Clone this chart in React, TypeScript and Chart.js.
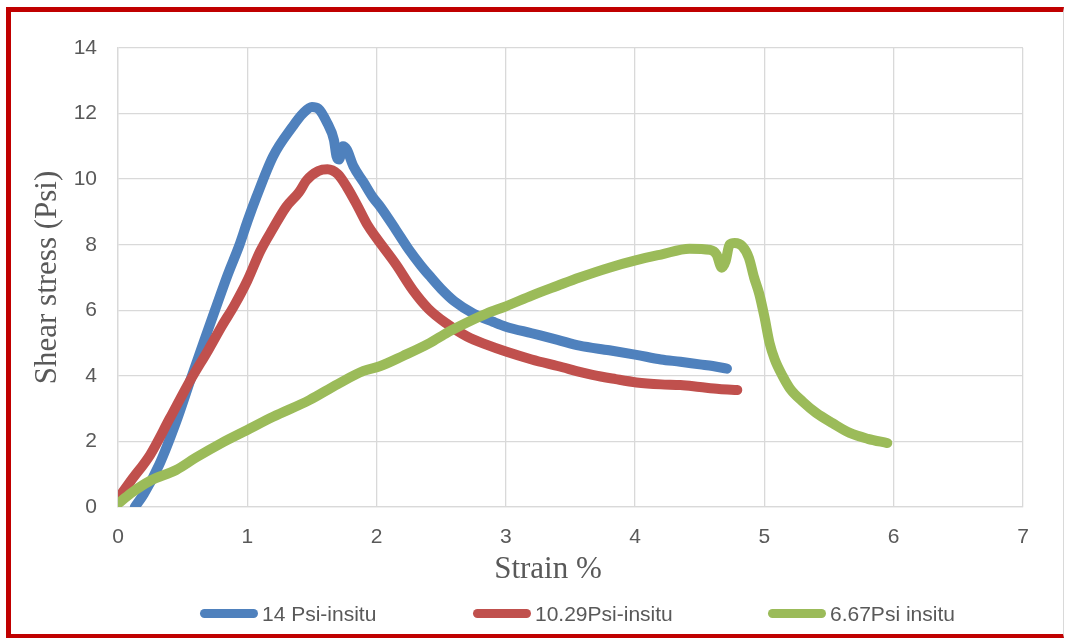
import React, { useEffect, useRef } from "react";
import { Chart, registerables } from "chart.js";

Chart.register(...registerables);

const xTicksMax = 7;
const yTicksMax = 14;

const blueLabel = "14 Psi-insitu";
const blueX = [0.13, 0.2, 0.32, 0.45, 0.56, 0.66, 0.75, 0.85, 0.94, 1.0, 1.07, 1.2, 1.35, 1.43, 1.5, 1.55, 1.62, 1.67, 1.69, 1.71, 1.74, 1.77, 1.82, 1.9, 1.97, 2.03, 2.15, 2.25, 2.34, 2.41, 2.5, 2.6, 2.75, 2.9, 3.0, 3.2, 3.4, 3.57, 3.8, 4.01, 4.2, 4.35, 4.5, 4.6, 4.71];
const blueY = [0, 0.4, 1.3, 2.6, 3.87, 5.0, 6.0, 7.1, 8.0, 8.7, 9.45, 10.7, 11.6, 12.0, 12.2, 12.15, 11.7, 11.2, 10.7, 10.6, 11.0, 10.9, 10.4, 9.9, 9.45, 9.15, 8.45, 7.85, 7.38, 7.05, 6.65, 6.28, 5.9, 5.65, 5.5, 5.3, 5.1, 4.92, 4.78, 4.64, 4.5, 4.43, 4.35, 4.3, 4.22];

const redLabel = "10.29Psi-insitu";
const redX = [0.0, 0.1, 0.25, 0.4, 0.56, 0.7, 0.8, 0.9, 1.0, 1.1, 1.2, 1.3, 1.4, 1.46, 1.55, 1.62, 1.7, 1.77, 1.85, 1.93, 2.0, 2.15, 2.28, 2.4, 2.54, 2.7, 2.85, 3.0, 3.2, 3.4, 3.67, 3.85, 4.01, 4.2, 4.35, 4.5, 4.65, 4.79];
const redY = [0.25, 0.8, 1.6, 2.7, 3.87, 4.8, 5.5, 6.15, 6.9, 7.8, 8.5, 9.15, 9.6, 9.97, 10.25, 10.3, 10.15, 9.76, 9.2, 8.6, 8.2, 7.4, 6.62, 6.05, 5.6, 5.2, 4.95, 4.74, 4.5, 4.3, 4.03, 3.9, 3.8, 3.74, 3.72, 3.66, 3.6, 3.57];

const greenLabel = "6.67Psi insitu";
const greenX = [0.0, 0.1, 0.25, 0.45, 0.6, 0.8, 1.0, 1.2, 1.48, 1.7, 1.9, 2.03, 2.2, 2.41, 2.55, 2.7, 2.85, 3.0, 3.2, 3.4, 3.57, 3.8, 4.01, 4.2, 4.42, 4.58, 4.63, 4.67, 4.7, 4.73, 4.77, 4.83, 4.88, 4.92, 4.96, 5.0, 5.04, 5.08, 5.14, 5.2, 5.3, 5.4, 5.53, 5.66, 5.8, 5.95];
const greenY = [0.1, 0.42, 0.8, 1.13, 1.5, 1.95, 2.35, 2.75, 3.26, 3.75, 4.15, 4.3, 4.6, 5.0, 5.33, 5.63, 5.9, 6.12, 6.45, 6.75, 7.0, 7.3, 7.53, 7.7, 7.88, 7.84, 7.7, 7.3, 7.5, 8.0, 8.05, 7.95, 7.6, 7.0, 6.5, 5.8, 5.0, 4.5, 4.0, 3.6, 3.2, 2.87, 2.55, 2.26, 2.08, 1.95];

const BLUE = "#4F81BD";
const RED = "#C0504D";
const GREEN = "#9BBB59";
const TEXT = "#595959";
const GRID = "#d9d9d9";
const SANS = "'Liberation Sans', Arial, sans-serif";
const SERIF = "'Liberation Serif', 'Times New Roman', serif";

const toPts = (xs: number[], ys: number[]) => xs.map((x, i) => ({ x, y: ys[i] }));

export default function App() {
  const ref = useRef<HTMLCanvasElement>(null);

  useEffect(() => {
    if (!ref.current) return;
    const mk = (label: string, xs: number[], ys: number[], color: string, order: number) => ({
      label,
      data: toPts(xs, ys),
      borderColor: color,
      backgroundColor: color,
      borderWidth: 10,
      borderCapStyle: "round" as const,
      borderJoinStyle: "round" as const,
      pointRadius: 0,
      showLine: true,
      cubicInterpolationMode: "monotone" as const,
      order,
    });
    const chart = new Chart(ref.current, {
      type: "scatter",
      data: {
        datasets: [
          mk(blueLabel, blueX, blueY, BLUE, 3),
          mk(redLabel, redX, redY, RED, 2),
          mk(greenLabel, greenX, greenY, GREEN, 1),
        ],
      },
      options: {
        animation: false,
        responsive: false,
        layout: { padding: { left: 12, top: 48, right: 42, bottom: 0 } },
        plugins: { legend: { display: false }, tooltip: { enabled: false } },
        scales: {
          x: {
            type: "linear",
            min: 0,
            max: xTicksMax,
            ticks: { stepSize: 1, color: TEXT, font: { family: SANS, size: 21 }, padding: 18 },
            grid: { color: GRID, drawTicks: false, lineWidth: 1.3 },
            border: { color: GRID, width: 1.3 },
            afterFit: (s: any) => {
              s.height = 132;
            },
          },
          y: {
            type: "linear",
            min: 0,
            max: yTicksMax,
            ticks: { stepSize: 2, color: TEXT, font: { family: SANS, size: 21 }, padding: 21 },
            grid: { color: GRID, drawTicks: false, lineWidth: 1.3 },
            border: { color: GRID, width: 1.3 },
            title: {
              display: true,
              text: "Shear stress (Psi)",
              color: TEXT,
              font: { family: SERIF, size: 31 },
              padding: { top: 17, bottom: 0 },
            },
            afterFit: (s: any) => {
              s.width = 106;
            },
          },
        },
      },
    });
    return () => chart.destroy();
  }, []);

  const legendItems = [
    { label: blueLabel, color: BLUE, left: 200 },
    { label: redLabel, color: RED, left: 473 },
    { label: greenLabel, color: GREEN, left: 768 },
  ];

  return (
    <div style={{ position: "fixed", left: 0, top: 0, width: 1065, height: 639, background: "#fff", overflow: "hidden" }}>
      <canvas ref={ref} width={1065} height={639} style={{ position: "absolute", left: 0, top: 0, width: 1065, height: 639 }} />
      <div
        style={{
          position: "absolute",
          left: 548,
          top: 567,
          transform: "translate(-50%, -50%)",
          fontFamily: SERIF,
          fontSize: 31,
          lineHeight: 1,
          color: TEXT,
          whiteSpace: "nowrap",
        }}
      >
        Strain %
      </div>
      {legendItems.map((it) => (
        <div
          key={it.label}
          style={{ position: "absolute", left: it.left, top: 600, height: 26, display: "flex", alignItems: "center", whiteSpace: "nowrap" }}
        >
          <span style={{ display: "inline-block", width: 58, height: 9, borderRadius: 5, background: it.color, marginRight: 4 }} />
          <span style={{ fontFamily: SANS, fontSize: 21, color: TEXT, lineHeight: 1 }}>{it.label}</span>
        </div>
      ))}
      <div
        style={{
          position: "absolute",
          left: 6,
          top: 7,
          width: 1058,
          height: 631,
          boxSizing: "border-box",
          borderTop: "5px solid #C00000",
          borderLeft: "5px solid #C00000",
          borderBottom: "4px solid #C00000",
          borderRight: "1px solid #d9d9d9",
          pointerEvents: "none",
        }}
      />
    </div>
  );
}
